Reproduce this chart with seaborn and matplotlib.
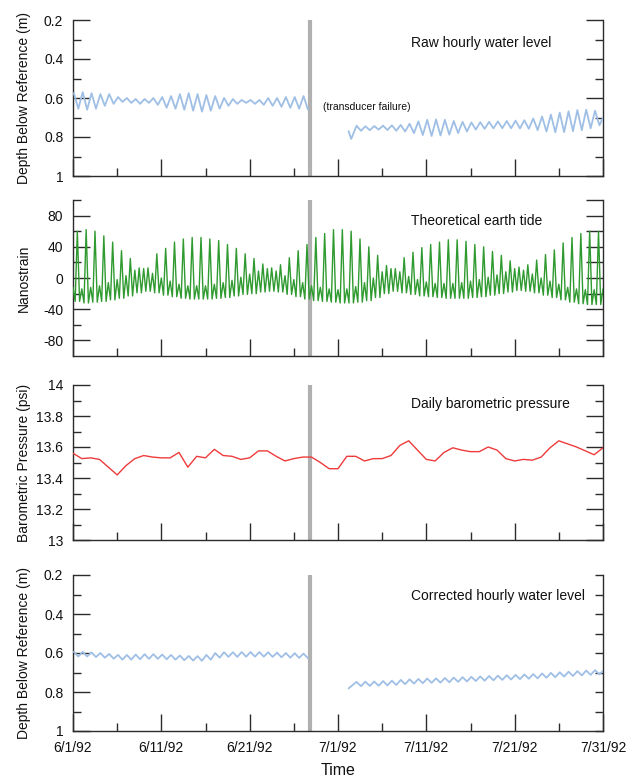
import numpy as np
import pandas as pd
import matplotlib
matplotlib.use("Agg")
import matplotlib.pyplot as plt
import matplotlib.dates as mdates
import seaborn as sns

sns.set_style("ticks")
plt.rcParams["font.family"] = ["Liberation Sans", "DejaVu Sans"]
plt.rcParams["font.size"] = 10

start = pd.Timestamp("1992-06-01")
end = pd.Timestamp("1992-07-31")
outage = pd.Timestamp("1992-06-27 19:00")

# raw hourly water level (m below reference), daily high / low before failure (6/1 .. 6/27)
raw1_hi = [0.575, 0.57, 0.575, 0.58, 0.58, 0.595, 0.6, 0.605, 0.605, 0.6,
           0.595, 0.59, 0.58, 0.575, 0.58, 0.585, 0.59, 0.6, 0.605, 0.61,
           0.61, 0.61, 0.6, 0.6, 0.595, 0.595, 0.59]
raw1_lo = [0.655, 0.66, 0.655, 0.64, 0.63, 0.62, 0.625, 0.63, 0.625, 0.635,
           0.65, 0.655, 0.66, 0.665, 0.67, 0.665, 0.655, 0.64, 0.63, 0.625,
           0.63, 0.635, 0.64, 0.645, 0.65, 0.655, 0.66]
# after restart (7/2 .. 7/30)
raw2_start = [0.77, 0.81]
raw2_hi = [0.742, 0.745, 0.744, 0.742, 0.74, 0.738, 0.732, 0.72, 0.712, 0.71,
           0.712, 0.718, 0.722, 0.725, 0.724, 0.722, 0.72, 0.718, 0.716, 0.714,
           0.705, 0.695, 0.685, 0.675, 0.668, 0.662, 0.66, 0.665]
raw2_lo = [0.768, 0.765, 0.762, 0.764, 0.768, 0.772, 0.78, 0.79, 0.795, 0.792,
           0.788, 0.78, 0.772, 0.762, 0.758, 0.756, 0.755, 0.755, 0.756, 0.758,
           0.765, 0.772, 0.776, 0.775, 0.77, 0.765, 0.755, 0.74]
raw2_end = 0.70

# theoretical earth tide (nanostrain), per day: secondary peak, trough, main peak
tide_bump = [-12, -14, -12, -10, -6, -2, 3, 10, 12, 6,
             0, -4, -8, -10, -10, -10, -8, -6, -3, 1,
             5, 9, 12, 9, 3, -2, -6, -10, -12, -14,
             -15, -14, -11, -6, 0, 8, 12, 8, 2, -2,
             -5, -7, -7, -7, -6, -4, -2, 1, 4, 8,
             12, 10, 5, 0, -4, -8, -12, -14, -15, -15]
tide_low = [-30, -32, -31, -30, -28, -26, -23, -19, -17, -19,
            -22, -24, -26, -27, -27, -27, -26, -25, -23, -21,
            -20, -18, -17, -18, -21, -24, -27, -29, -30, -31,
            -32, -32, -31, -29, -25, -20, -17, -19, -21, -23,
            -24, -25, -26, -26, -26, -25, -24, -22, -20, -18,
            -16, -17, -19, -22, -25, -28, -31, -33, -34, -34]
tide_peak = [60, 62, 60, 54, 46, 35, 25, 13, 13, 31,
             38, 46, 50, 52, 52, 50, 48, 43, 38, 31,
             25, 18, 13, 17, 26, 35, 43, 52, 57, 62,
             62, 60, 50, 40, 29, 16, 12, 26, 33, 39,
             43, 46, 49, 49, 47, 43, 40, 34, 29, 22,
             14, 17, 23, 30, 36, 45, 52, 57, 60, 60]
tide_end = -14

# daily barometric pressure (psi), 6/1/92 .. 7/31/92
baro = [13.56, 13.525, 13.53, 13.52, 13.47, 13.42, 13.48, 13.525, 13.545, 13.535,
        13.53, 13.53, 13.565, 13.47, 13.54, 13.53, 13.585, 13.545, 13.54, 13.52,
        13.53, 13.575, 13.575, 13.54, 13.51, 13.525, 13.535, 13.535, 13.5, 13.46,
        13.46, 13.54, 13.54, 13.51, 13.525, 13.525, 13.545, 13.61, 13.64, 13.58,
        13.52, 13.51, 13.565, 13.595, 13.58, 13.57, 13.57, 13.6, 13.58, 13.525,
        13.51, 13.52, 13.515, 13.535, 13.595, 13.64, 13.62, 13.6, 13.575, 13.55,
        13.595]

# corrected hourly water level (m)
corr1_hi = [0.594, 0.594, 0.597, 0.6, 0.605, 0.61, 0.61, 0.608, 0.606, 0.606,
            0.608, 0.61, 0.613, 0.615, 0.616, 0.61, 0.6, 0.596, 0.596, 0.595,
            0.595, 0.595, 0.596, 0.598, 0.6, 0.601, 0.603]
corr1_lo = [0.618, 0.618, 0.621, 0.624, 0.629, 0.634, 0.634, 0.632, 0.63, 0.63,
            0.632, 0.634, 0.637, 0.639, 0.64, 0.634, 0.624, 0.62, 0.62, 0.619,
            0.619, 0.619, 0.62, 0.622, 0.624, 0.625, 0.627]
corr2_start = [0.782, 0.77]
corr2_hi = [0.748, 0.747, 0.746, 0.744, 0.742, 0.738, 0.735, 0.733, 0.731, 0.73,
            0.728, 0.726, 0.724, 0.722, 0.72, 0.718, 0.716, 0.714, 0.712, 0.71,
            0.708, 0.705, 0.702, 0.699, 0.696, 0.693, 0.69, 0.688]
corr2_lo = [0.77, 0.769, 0.768, 0.766, 0.764, 0.76, 0.757, 0.755, 0.753, 0.752,
            0.75, 0.748, 0.746, 0.744, 0.742, 0.74, 0.738, 0.736, 0.734, 0.732,
            0.73, 0.727, 0.724, 0.721, 0.718, 0.715, 0.712, 0.71]
corr2_end = 0.692


def day(d):
    return start + pd.to_timedelta(d, unit="D")


def water_frame(hi1, lo1, start2, hi2, lo2, end2):
    rows = []
    for d, (h, l) in enumerate(zip(hi1, lo1)):
        rows.append((day(d + 0.1), h, 1))
        rows.append((day(d + 0.6), l, 1))
    rows.append((day(31.2), start2[0], 2))
    rows.append((day(31.5), start2[1], 2))
    for i, (h, l) in enumerate(zip(hi2, lo2)):
        rows.append((day(32 + i + 0.1), h, 2))
        rows.append((day(32 + i + 0.6), l, 2))
    rows.append((day(60), end2, 2))
    return pd.DataFrame(rows, columns=["time", "depth", "seg"])


raw_df = water_frame(raw1_hi, raw1_lo, raw2_start, raw2_hi, raw2_lo, raw2_end)
corr_df = water_frame(corr1_hi, corr1_lo, corr2_start, corr2_hi, corr2_lo, corr2_end)

tide_rows = []
for d in range(len(tide_peak)):
    for off, v in zip([0.0, 0.245, 0.49, 0.745],
                      [tide_bump[d], tide_low[d], tide_peak[d], tide_low[d]]):
        tide_rows.append((day(d + off), v))
tide_rows.append((day(60), tide_end))
tide_df = pd.DataFrame(tide_rows, columns=["time", "strain"])

baro_df = pd.DataFrame({"time": [day(i) for i in range(len(baro))], "psi": baro})

blue = "#9fbfe5"
green = "#2f9a2f"
red = "#ee3b3b"
spine_c = "#2b2b2b"

fig = plt.figure(figsize=(6.34, 7.78), dpi=100)
W = 778.0
left, width = 73 / 634, 530 / 634
boxes = [(20, 176), (200, 356), (385, 540), (575, 731)]
axes = [fig.add_axes([left, 1 - b / W, width, (b - t) / W]) for t, b in boxes]


def fmt_date(x, pos):
    d = mdates.num2date(x)
    return f"{d.month}/{d.day}/{d.year % 100:02d}"


def style(ax, ylim, major, labels, minor, ylabel, title, title_y, right_len=None):
    ax.set_xlim(start, end)
    ax.set_ylim(ylim)
    ax.spines["top"].set_visible(False)
    for s in ["left", "right", "bottom"]:
        ax.spines[s].set_color(spine_c)
        ax.spines[s].set_linewidth(1.0)
    ax.set_yticks(major)
    ax.set_yticklabels(labels)
    ax.set_yticks(minor, minor=True)
    ax.xaxis.set_major_locator(mdates.DayLocator(bymonthday=[1, 11, 21, 31]))
    ax.xaxis.set_minor_locator(mdates.DayLocator(bymonthday=[6, 16, 26]))
    ax.xaxis.set_major_formatter(plt.FuncFormatter(fmt_date))
    ax.tick_params(which="both", direction="in", left=True, right=True,
                   bottom=True, top=False, color=spine_c, width=1.0,
                   labelcolor="#111111")
    ax.tick_params(which="major", length=12, pad=7, labelsize=10)
    ax.tick_params(which="minor", length=6)
    if right_len is not None:
        for t in ax.yaxis.get_major_ticks() + ax.yaxis.get_minor_ticks():
            t.tick2line.set_markersize(right_len)
    ax.set_ylabel(ylabel, fontsize=10, color="#111111")
    ax.yaxis.set_label_coords(-0.08, 0.5)
    ax.set_xlabel("")
    ax.axvline(outage, color="#b0b0b0", lw=3.0, zorder=1, solid_capstyle="butt")
    ax.text(0.637, title_y, title, transform=ax.transAxes, fontsize=10,
            va="center", color="#111111")


ax = axes[0]
sns.lineplot(data=raw_df, x="time", y="depth", units="seg", estimator=None,
             color=blue, lw=1.3, ax=ax, zorder=3)
style(ax, (1, 0.2), [0.2, 0.4, 0.6, 0.8, 1.0], ["0.2", "0.4", "0.6", "0.8", "1"],
      [0.3, 0.5, 0.7, 0.9], "Depth Below Reference (m)", "Raw hourly water level", 0.854)
ax.text(0.471, 0.444, "(transducer failure)", transform=ax.transAxes,
        fontsize=7.5, va="center", color="#111111")

ax = axes[1]
sns.lineplot(data=tide_df, x="time", y="strain", estimator=None,
             color=green, lw=1.0, ax=ax, zorder=3)
style(ax, (-100, 100), [-80, -40, 0, 40, 80], ["-80", "-40", "0", "40", "80"],
      [-60, -20, 20, 60, 100], "Nanostrain", "Theoretical earth tide", 0.867,
      right_len=12)

ax = axes[2]
sns.lineplot(data=baro_df, x="time", y="psi", estimator=None,
             color=red, lw=1.0, ax=ax, zorder=3)
style(ax, (13, 14), [13, 13.2, 13.4, 13.6, 13.8, 14],
      ["13", "13.2", "13.4", "13.6", "13.8", "14"],
      [13.1, 13.3, 13.5, 13.7, 13.9], "Barometric Pressure (psi)",
      "Daily barometric pressure", 0.877)

ax = axes[3]
sns.lineplot(data=corr_df, x="time", y="depth", units="seg", estimator=None,
             color=blue, lw=1.3, ax=ax, zorder=3)
style(ax, (1, 0.2), [0.2, 0.4, 0.6, 0.8, 1.0], ["0.2", "0.4", "0.6", "0.8", "1"],
      [0.3, 0.5, 0.7, 0.9], "Depth Below Reference (m)",
      "Corrected hourly water level", 0.867, right_len=6)
ax.set_xlabel("Time", fontsize=11.5, color="#111111")
ax.xaxis.set_label_coords(0.5, -0.205)

for ax in axes[:3]:
    ax.tick_params(axis="x", labelbottom=False)

fig.savefig("out.png", dpi=100)
